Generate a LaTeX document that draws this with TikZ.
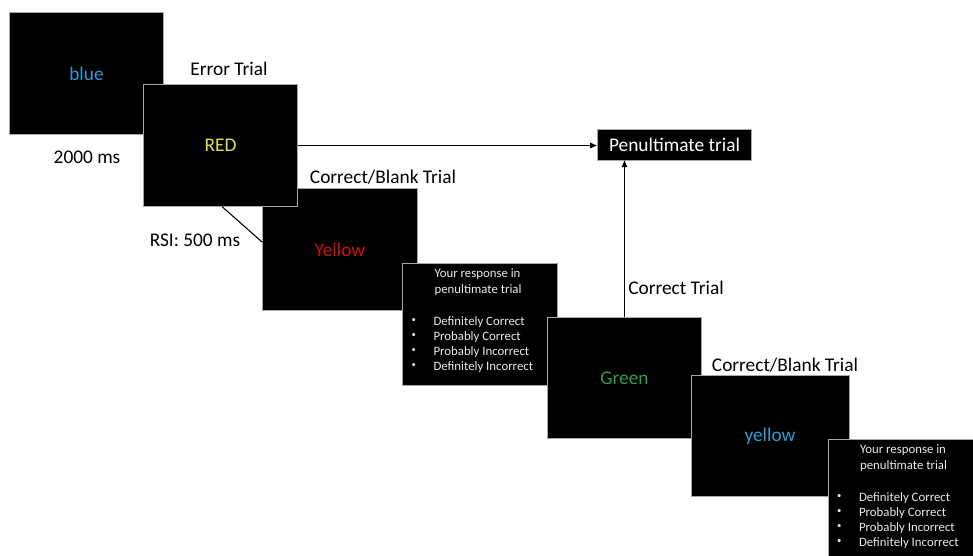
\documentclass[tikz,border=0pt]{standalone}
\usepackage{fontspec}
\setmainfont{Carlito}
\usetikzlibrary{arrows.meta,calc}
\definecolor{wblue}{HTML}{2F9AD6}
\definecolor{wyellow}{HTML}{E2E24A}
\definecolor{wred}{HTML}{CC1010}
\definecolor{wgreen}{HTML}{2E9E4E}
\definecolor{edge}{HTML}{A6A6A6}
\tikzset{
  screen/.style={fill=black, draw=edge, line width=0.6pt, minimum width=116pt, minimum height=91pt, inner sep=0pt, font=\fontsize{14.5}{16}\selectfont},
  respscreen/.style={screen, minimum height=91.5pt},
  lbl/.style={font=\fontsize{14.5}{16}\selectfont, inner sep=0pt, text=black},
  rtxt/.style={font=\fontsize{9.6}{11}\selectfont, text=white!92!black, inner sep=0pt, anchor=west},
  rbul/.style={font=\fontsize{6.5}{8}\selectfont, text=white!92!black, inner sep=0pt, anchor=west},
  arr/.style={-{Triangle[length=5pt,width=4pt]}, line width=0.8pt},
}
\newcommand\myresponse[1]{%
  \node[rtxt] (#1h1) at ($(#1.north west)+(32,12)$) {Your response in};
  \node[rtxt] (#1h2) at ($(#1.north west)+(32,27)$) {penultimate trial};
  \foreach \t [count=\i] in {Definitely Correct,Probably Correct,Probably Incorrect,Definitely Incorrect}{
    \node[rbul] (#1b\i) at ($(#1.north west)+(9,43+15*\i)$) {\textbullet};
    \node[rtxt] (#1i\i) at ($(#1.north west)+(31,44+15*\i)$) {\t};
  }%
}
\begin{document}
\begin{tikzpicture}[x=0.75pt,y=-0.75pt]
\useasboundingbox (0,0) rectangle (973,556);
\clip (0,0) rectangle (973,556);
\node[screen, text=wblue] (blue) at (86.5,73.5) {blue};
\node[screen, text=wred] (yel) at (340,249.5) {Yellow};
\node[screen, text=wyellow] (red) at (220.5,145.5) {RED};
\node[respscreen] (r1) at (480,324) {};
\myresponse{r1}
\node[screen, text=wgreen] (green) at (624.5,378) {Green};
\node[screen, text=wblue, minimum width=118.5pt] (yel2) at (770,436) {yellow};
\node[respscreen] (r2) at (905.5,500) {};
\myresponse{r2}
\node[fill=black, draw=edge, line width=0.6pt, minimum width=116pt, minimum height=23.25pt, inner sep=0pt, text=white, font=\fontsize{14.5}{16}\selectfont] (pen) at (674.5,144.5) {Penultimate trial};

\node[lbl] (l1) at (229,69) {Error Trial};
\node[lbl] (l2) at (87,157) {2000 ms};
\node[lbl] (l3) at (383,177) {Correct/Blank Trial};
\node[lbl] (l4) at (195,240) {RSI: 500 ms};
\node[lbl] (l5) at (676,288) {Correct Trial};
\node[lbl] (l6) at (785,365) {Correct/Blank Trial};

\draw[arr] (red.east) -- (red.east -| pen.west);
\draw[arr] (green.north) -- (green.north |- pen.south);
\coordinate (yin) at ($(yel.north west)!0.44!(yel.south west)$);
\draw[line width=0.8pt] ($(red.south)+(1.5,0)$) -- (yin);
\end{tikzpicture}
\end{document}
